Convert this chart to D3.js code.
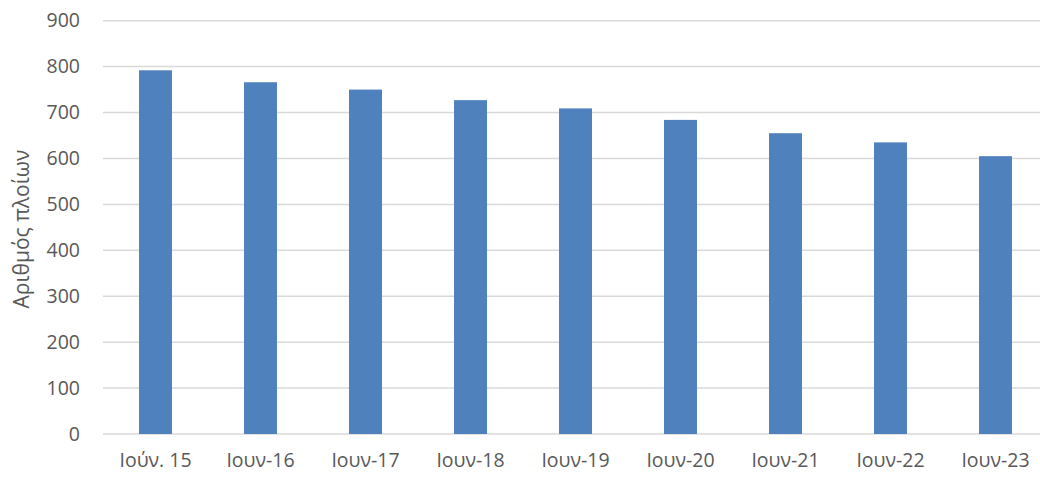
<!DOCTYPE html>
<html>
<head>
<meta charset="utf-8">
<script src="https://cdn.jsdelivr.net/npm/d3@7"></script>
<style>
  html, body { margin: 0; padding: 0; background: #fff; }
  svg { display: block; }
  text { font-family: "Open Sans", "Noto Sans", sans-serif; fill: #595959; }
</style>
</head>
<body>
<svg id="chart" width="1040" height="477"></svg>
<script>
// Number of ships in June of each year
const categories = ["Ιούν. 15", "Ιουν-16", "Ιουν-17", "Ιουν-18", "Ιουν-19", "Ιουν-20", "Ιουν-21", "Ιουν-22", "Ιουν-23"];
const ships = [792, 766, 750, 727, 709, 684, 655, 635, 605];
const yTicks = [0, 100, 200, 300, 400, 500, 600, 700, 800, 900];
const yTitle = "Αριθμός πλοίων";

const svg = d3.select("#chart");
const plot = { left: 103, right: 1048, top: 20.7, bottom: 434 };
const fontSize = 19.5;

const x = d3.scaleBand().domain(categories).range([plot.left, plot.right]).paddingInner(0.686).paddingOuter(0.343);
const y = d3.scaleLinear().domain([0, 900]).range([plot.bottom, plot.top]);

// horizontal gridlines
svg.append("g")
  .selectAll("line")
  .data(yTicks)
  .join("line")
  .attr("x1", plot.left).attr("x2", plot.right)
  .attr("y1", d => y(d)).attr("y2", d => y(d))
  .attr("stroke", "#d9d9d9").attr("stroke-width", 1.5);

// bars
svg.append("g")
  .selectAll("rect")
  .data(ships)
  .join("rect")
  .attr("x", (d, i) => x(categories[i]))
  .attr("width", x.bandwidth())
  .attr("y", d => y(d))
  .attr("height", d => y(0) - y(d))
  .attr("fill", "#4f81bd");

// y axis labels
const yAxis = d3.axisLeft(y).tickValues(yTicks).tickSize(0).tickPadding(0);
const gy = svg.append("g").attr("transform", `translate(80,0)`).call(yAxis);
gy.select(".domain").remove();
gy.selectAll("text").attr("font-size", fontSize).attr("fill", "#595959")
  .style("font-family", "'Open Sans', 'Noto Sans', sans-serif");

// x axis labels
const xAxis = d3.axisBottom(x).tickSize(0).tickPadding(0);
const gx = svg.append("g").attr("transform", `translate(0,${plot.bottom + 19})`).call(xAxis);
gx.select(".domain").remove();
gx.selectAll("text").attr("font-size", fontSize).attr("fill", "#595959")
  .style("font-family", "'Open Sans', 'Noto Sans', sans-serif");

// y axis title
svg.append("text")
  .attr("transform", `translate(29,229) rotate(-90)`)
  .attr("text-anchor", "middle")
  .attr("font-size", 21)
  .text(yTitle);
</script>
</body>
</html>
